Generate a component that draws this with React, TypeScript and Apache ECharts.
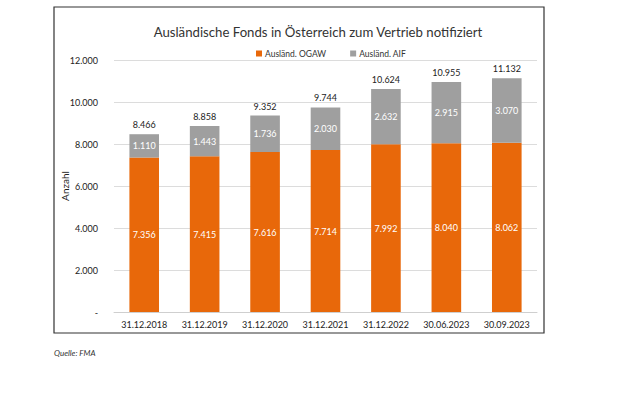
import React, { useEffect, useRef } from "react";
import * as echarts from "echarts";

const categories = ["31.12.2018", "31.12.2019", "31.12.2020", "31.12.2021", "31.12.2022", "30.06.2023", "30.09.2023"];
const ogaw = [7356, 7415, 7616, 7714, 7992, 8040, 8062];
const aif = [1110, 1443, 1736, 2030, 2632, 2915, 3070];
const totals = [8466, 8858, 9352, 9744, 10624, 10955, 11132];
const yTicks = [0, 2000, 4000, 6000, 8000, 10000, 12000];

const FONT = "Lato";

function fmt(v: number): string {
  if (v === 0) return "-";
  const s = String(Math.round(v));
  return s.replace(/\B(?=(\d{3})+(?!\d))/g, ".");
}

export default function App() {
  const ref = useRef<HTMLDivElement>(null);
  useEffect(() => {
    document.body.style.margin = "0";
    const chart = echarts.init(ref.current!, null, { renderer: "svg" });
    chart.setOption({
      animation: false,
      backgroundColor: "#ffffff",
      textStyle: { fontFamily: FONT },
      title: {
        text: "Ausländische Fonds in Österreich zum Vertrieb notifiziert",
        left: 313,
        textAlign: "center",
        top: 20,
        textStyle: { fontFamily: FONT, fontSize: 13.2, fontWeight: "normal", color: "#333" },
      },
      legend: {
        top: 44,
        left: 251,
        itemWidth: 6,
        itemHeight: 6,
        itemGap: 24,
        icon: "rect",
        textStyle: { fontFamily: FONT, fontSize: 8.5, color: "#333", padding: [0, 0, 0, -2] },
        data: ["Ausländ. OGAW", "Ausländ. AIF"],
      },
      graphic: [
        {
          type: "rect",
          shape: { x: 54, y: 7, width: 490, height: 326 },
          style: { fill: "none", stroke: "#333", lineWidth: 1.2 },
          silent: true,
        },
        {
          type: "text",
          x: 54,
          y: 349,
          style: { text: "Quelle: FMA", fontFamily: FONT, fontSize: 8, fontStyle: "italic", fill: "#333" },
        },
      ],
      grid: { left: 114, right: 83, top: 60, bottom: 101, containLabel: false },
      xAxis: {
        type: "category",
        data: categories,
        axisLine: { lineStyle: { color: "#cfcfcf" } },
        axisTick: { show: false },
        axisLabel: { fontFamily: FONT, fontSize: 9, color: "#222", margin: 8, interval: 0 },
      },
      yAxis: {
        type: "value",
        min: yTicks[0],
        max: yTicks[yTicks.length - 1],
        interval: 2000,
        name: "Anzahl",
        nameLocation: "middle",
        nameGap: 44,
        nameMoveOverlap: false,
        nameTextStyle: { fontFamily: FONT, fontSize: 10, color: "#222" },
        axisLine: { show: false },
        axisTick: { show: false },
        splitLine: { lineStyle: { color: "#dcdcdc" } },
        axisLabel: { fontFamily: FONT, fontSize: 9, color: "#222", margin: 16, formatter: (v: number) => fmt(v) },
      },
      series: [
        {
          name: "Ausländ. OGAW",
          type: "bar",
          stack: "a",
          barWidth: "49%",
          data: ogaw,
          itemStyle: { color: "#E8680A" },
          label: { show: true, position: "inside", color: "#fff", fontFamily: FONT, fontSize: 9, formatter: (p: any) => fmt(p.value) },
        },
        {
          name: "Ausländ. AIF",
          type: "bar",
          stack: "a",
          data: aif,
          itemStyle: { color: "#9f9f9f" },
          label: { show: true, position: "inside", color: "#fff", fontFamily: FONT, fontSize: 9, formatter: (p: any) => fmt(p.value) },
        },
        {
          name: "Total",
          type: "bar",
          barGap: "-100%",
          barWidth: "49%",
          data: totals,
          z: 0,
          silent: true,
          itemStyle: { color: "rgba(0,0,0,0)" },
          label: { show: true, position: "top", distance: 5, color: "#222", fontFamily: FONT, fontSize: 9, formatter: (p: any) => fmt(p.value) },
        },
      ],
    });
    return () => chart.dispose();
  }, []);
  return <div ref={ref} style={{ width: 620, height: 413 }} />;
}
